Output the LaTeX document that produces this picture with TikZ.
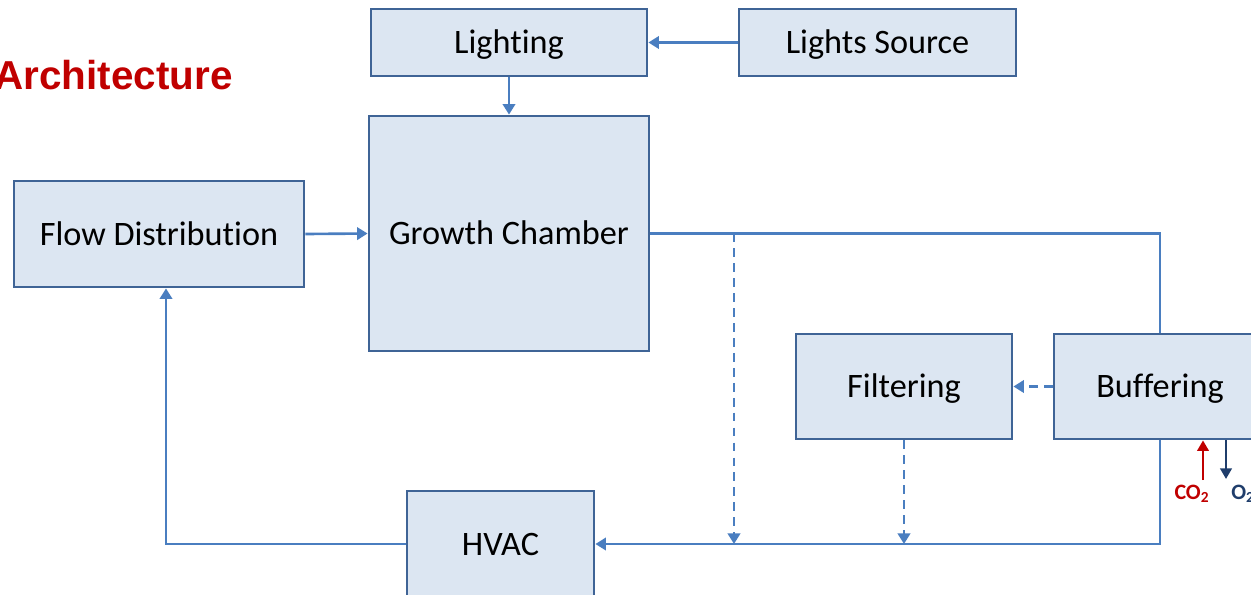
\documentclass[tikz,border=0pt]{standalone}
\usepackage{fontspec}
\setmainfont{Carlito}[Ligatures=NoCommon]
\newfontfamily\arialf{Liberation Sans}
\usetikzlibrary{arrows.meta,calc}
\definecolor{boxfill}{HTML}{DCE6F2}
\definecolor{boxdraw}{HTML}{3F6496}
\definecolor{linec}{HTML}{4A7EC0}
\definecolor{redc}{HTML}{C00000}
\definecolor{darkc}{HTML}{1F3D6B}
\tikzset{
  blk/.style={draw=boxdraw, line width=1.6pt, fill=boxfill, inner sep=0pt,
    text height=17pt, text depth=4pt,
    font=\fontsize{19.5}{22}\selectfont, text=black},
  conn/.style={draw=linec, line width=1.5pt},
  tip/.style={-{Triangle[length=6pt,width=7pt]}},
  dashline/.style={dash pattern=on 5pt off 3.5pt},
}
\begin{document}
\begin{tikzpicture}[x=0.02cm,y=-0.02cm]
\useasboundingbox (0,0) rectangle (1251,595);
\clip (0,0) rectangle (1251,595);
% title
\node[anchor=base east, inner sep=0pt, text=redc, font=\arialf\bfseries\fontsize{23}{26}\selectfont] (title) at (233,89) {Architecture};
% boxes
\node[blk, minimum width=5.52cm, minimum height=1.34cm] (light) at (509,42.5) {Lighting};
\node[blk, minimum width=5.54cm, minimum height=1.34cm] (src) at (877.5,42.5) {Lights Source};
\node[blk, minimum width=5.6cm, minimum height=4.7cm] (gc) at (509,233.5) {Growth Chamber};
\node[blk, minimum width=5.8cm, minimum height=2.12cm] (fd) at (159,234) {Flow Distribution};
\node[blk, minimum width=4.32cm, minimum height=2.1cm] (filt) at (904,386.5) {Filtering};
\node[blk, minimum width=4.24cm, minimum height=2.1cm] (buf) at (1160,386.5) {Buffering};
\node[blk, minimum width=3.74cm, minimum height=2.12cm] (hvac) at (500.5,544) {HVAC};
% connectors
\draw[conn,tip] (src.west) -- (light.east);
\draw[conn,tip] (light.south) -- (gc.north);
\draw[conn,tip] (fd.east) -- (gc.west);
\draw[conn] (gc.east) -| (buf.north);
\coordinate (j1) at (734,233.5);
\draw[conn,tip,dashline] (j1) -- (j1 |- hvac.east);
\draw[conn,tip,dashline] (buf.west) -- (filt.east);
\draw[conn,tip,dashline] (filt.south) -- (filt.south |- hvac.east);
\draw[conn,tip] (buf.south) |- (hvac.east);
\draw[conn,tip] (hvac.west) -| ($(fd.south)+(7,0)$);
% gases
\coordinate (co2s) at (1203,480);
\coordinate (o2e) at (1226,479);
\draw[draw=redc, line width=1.4pt, -{Triangle[length=6pt,width=6.5pt]}] (co2s) -- (co2s |- buf.south);
\draw[draw=darkc, line width=1.4pt, -{Triangle[length=6pt,width=6.5pt]}] (o2e |- buf.south) -- (o2e);
\node[text=redc, font=\bfseries\fontsize{12.5}{14}\selectfont, inner sep=0pt] (co2) at (1192,494) {CO\textsubscript{2}};
\node[text=darkc, font=\bfseries\fontsize{12.5}{14}\selectfont, inner sep=0pt, anchor=west] (o2) at (1231,494) {O\textsubscript{2}};
\end{tikzpicture}
\end{document}
